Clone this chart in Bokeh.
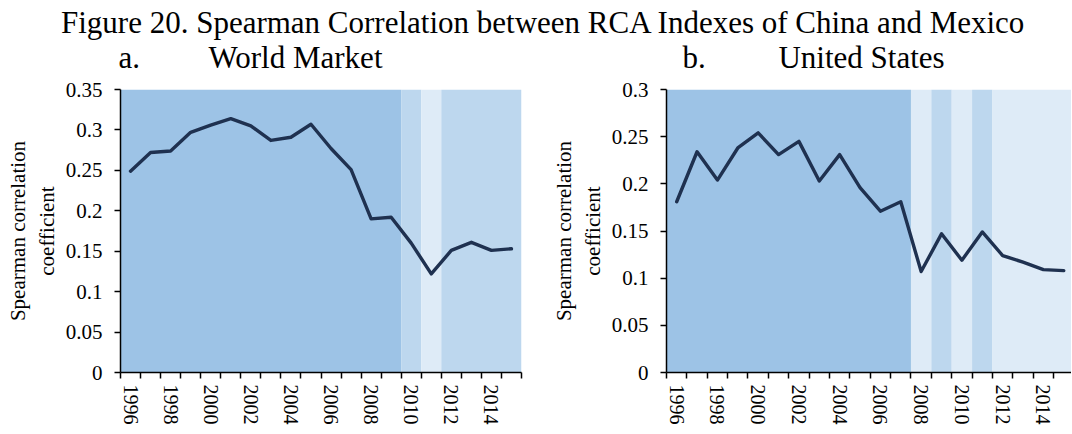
from bokeh.plotting import figure
from bokeh.layouts import column, row
from bokeh.models import Range1d, FixedTicker, ColumnDataSource
from bokeh.core.properties import value
from bokeh.embed import file_html
from bokeh.resources import INLINE

FONT = "Liberation Serif"

# ---------------- data ----------------
main_title = "Figure 20. Spearman Correlation between RCA Indexes of China and Mexico"
panel_letters = ["a.", "b."]
panel_names = ["World Market", "United States"]
y_axis_title = "Spearman correlation\ncoefficient"

years = [1996, 1997, 1998, 1999, 2000, 2001, 2002, 2003, 2004, 2005,
         2006, 2007, 2008, 2009, 2010, 2011, 2012, 2013, 2014, 2015]
world_market = [0.249, 0.272, 0.274, 0.297, 0.306, 0.314, 0.305, 0.287, 0.291, 0.307,
                0.277, 0.251, 0.190, 0.192, 0.160, 0.122, 0.151, 0.161, 0.151, 0.153]
united_states = [0.181, 0.234, 0.204, 0.238, 0.254, 0.231, 0.245, 0.203, 0.231, 0.196,
                 0.171, 0.181, 0.107, 0.147, 0.119, 0.149, 0.124, 0.117, 0.109, 0.108]

# shaded background periods (first year, last year, shade)
world_band_start = [1996, 2010, 2011, 2012]
world_band_end = [2009, 2010, 2011, 2015]
world_band_shade = ["dark", "mid", "light", "mid"]
us_band_start = [1996, 2008, 2009, 2010, 2011, 2012]
us_band_end = [2007, 2008, 2009, 2010, 2011, 2015]
us_band_shade = ["dark", "light", "mid", "light", "mid", "light"]

world_y_ticks = [0, 0.05, 0.1, 0.15, 0.2, 0.25, 0.3, 0.35]
world_y_labels = ["0", "0.05", "0.1", "0.15", "0.2", "0.25", "0.3", "0.35"]
us_y_ticks = [0, 0.05, 0.1, 0.15, 0.2, 0.25, 0.3]
us_y_labels = ["0", "0.05", "0.1", "0.15", "0.2", "0.25", "0.3"]
x_tick_years = [1996, 1998, 2000, 2002, 2004, 2006, 2008, 2010, 2012, 2014]
x_tick_labels = ["1996", "1998", "2000", "2002", "2004", "2006", "2008", "2010", "2012", "2014"]

# ---------------- styles / layout ----------------
SHADES = {"dark": "#9DC3E6", "mid": "#BDD7EE", "light": "#DEEBF7"}
LINE_COLOR = "#1F3150"
PAGE_W = 1071
STRIP_H = 76
CHART_H = 357
LEFT_W = 548
RIGHT_W = PAGE_W - LEFT_W
BORDER_TOP = 89 - STRIP_H


def make_panel(vals, b_start, b_end, b_shade, y_ticks, y_labels, width,
               border_left, border_right, border_bottom, x_end):
    p = figure(width=width, height=CHART_H, output_backend="svg", toolbar_location=None,
               title=None,
               x_range=Range1d(years[0] - 0.5, x_end),
               y_range=Range1d(y_ticks[0], y_ticks[-1]),
               min_border_left=border_left, min_border_right=border_right,
               min_border_top=BORDER_TOP, min_border_bottom=border_bottom)
    p.outline_line_color = None
    p.xgrid.visible = False
    p.ygrid.visible = False

    src = ColumnDataSource(dict(
        left=[s - 0.5 for s in b_start],
        right=[e + 0.5 for e in b_end],
        bottom=[y_ticks[0]] * len(b_start),
        top=[y_ticks[-1]] * len(b_start),
        color=[SHADES[s] for s in b_shade],
    ))
    p.quad(left="left", right="right", bottom="bottom", top="top",
           fill_color="color", line_color=None, source=src)
    p.line(years, vals, line_color=LINE_COLOR, line_width=3.4, line_join="round",
           line_cap="round")

    # y axis
    ya = p.yaxis[0]
    ya.ticker = FixedTicker(ticks=y_ticks)
    ya.major_label_overrides = {t: l for t, l in zip(y_ticks, y_labels)}
    ya.minor_tick_line_color = None
    ya.major_tick_out = 6
    ya.major_tick_in = 0
    ya.major_tick_line_color = "black"
    ya.major_tick_line_width = 1.5
    ya.axis_line_color = "black"
    ya.axis_line_width = 1.5
    ya.major_label_standoff = 12
    ya.major_label_text_font = FONT
    ya.major_label_text_font_size = "21px"
    ya.major_label_text_color = "black"
    ya.axis_label = y_axis_title
    ya.axis_label_text_font = FONT
    ya.axis_label_text_font_size = "21px"
    ya.axis_label_text_font_style = "normal"
    ya.axis_label_text_color = "black"
    ya.axis_label_standoff = 4

    # x axis: labels at every other year, tick marks between categories
    xa = p.xaxis[0]
    xa.ticker = FixedTicker(ticks=x_tick_years,
                            minor_ticks=[y - 0.5 for y in years] + [years[-1] + 0.5])
    xa.major_label_overrides = {t: l for t, l in zip(x_tick_years, x_tick_labels)}
    xa.major_tick_line_color = None
    xa.major_tick_out = 6
    xa.major_tick_in = 0
    xa.minor_tick_line_color = "black"
    xa.minor_tick_line_width = 1.5
    xa.minor_tick_out = 6
    xa.minor_tick_in = 0
    xa.axis_line_color = "black"
    xa.axis_line_width = 1.5
    xa.major_label_orientation = "vertical"
    xa.major_label_standoff = 6
    xa.major_label_text_font = FONT
    xa.major_label_text_font_size = "20px"
    xa.major_label_text_color = "black"
    return p


left = make_panel(world_market, world_band_start, world_band_end, world_band_shade,
                  world_y_ticks, world_y_labels, width=LEFT_W,
                  border_left=120, border_right=27, border_bottom=54,
                  x_end=years[-1] + 0.5)
right = make_panel(united_states, us_band_start, us_band_end, us_band_shade,
                   us_y_ticks, us_y_labels, width=RIGHT_W,
                   border_left=115, border_right=0, border_bottom=61,
                   x_end=years[-1] + 0.38)

# ---------------- title strip (coordinates = page pixels) ----------------
t = figure(width=PAGE_W, height=STRIP_H, output_backend="svg", toolbar_location=None,
           title=None,
           x_range=Range1d(0, PAGE_W), y_range=Range1d(STRIP_H, 0),
           x_axis_location=None, y_axis_location=None,
           min_border_left=0, min_border_right=0, min_border_top=0, min_border_bottom=0)
t.outline_line_color = None
t.xgrid.visible = False
t.ygrid.visible = False
t.text(x=[543], y=[22], text=[main_title], text_font=value(FONT),
       text_font_size="31px", text_align="center", text_baseline="alphabetic",
       text_color="black")
t.text(x=[118, 682], y=[57, 57], text=panel_letters, text_font=value(FONT),
       text_font_size="31px", text_align="left", text_baseline="alphabetic",
       text_color="black")
t.text(x=[295, 861], y=[57, 57], text=panel_names, text_font=value(FONT),
       text_font_size="31px", text_align="center", text_baseline="alphabetic",
       text_color="black")

layout = column(t, row(left, right, spacing=0), spacing=0)
open("out.html", "w").write(file_html(layout, INLINE))
